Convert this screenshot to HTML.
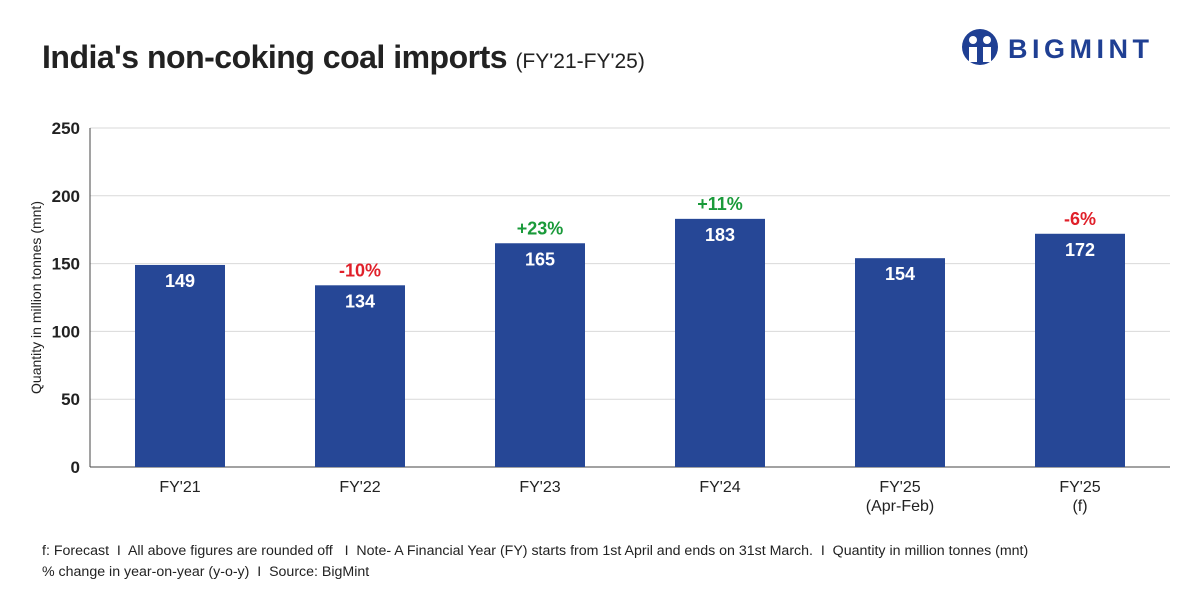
<!DOCTYPE html>
<html><head><meta charset="utf-8"><style>
body{margin:0;width:1200px;height:600px;background:#fff;font-family:"Liberation Sans",sans-serif;overflow:hidden;position:relative}
.t{position:absolute}
</style></head><body>
<div class="t" style="left:42px;top:39px;font-size:32px;font-weight:bold;color:#222;letter-spacing:-0.5px">India's non-coking coal imports <span style="font-size:21px;font-weight:normal;letter-spacing:0">(FY'21-FY'25)</span></div>
<div class="t" style="left:960px;top:28px;width:200px;height:40px">
<svg width="40" height="40" viewBox="0 0 40 40"><circle cx="20" cy="19" r="18" fill="#1f3f93"/><circle cx="13" cy="12" r="4" fill="#fff"/><circle cx="27" cy="12" r="4" fill="#fff"/><path d="M9 19h8v15h-8zM23 19h8v15h-8z" fill="#fff"/></svg>
<span style="position:absolute;left:48px;top:6px;font-size:27px;font-weight:bold;color:#1f3f93;letter-spacing:4.5px">BIGMINT</span></div>
<svg class="t" style="left:0;top:0" width="1200" height="600" id="c"></svg>
<div class="t" style="left:42px;top:543px;font-size:14.2px;color:#222">f: Forecast &nbsp;I&nbsp; All above figures are rounded off &nbsp; I&nbsp; Note- A Financial Year (FY) starts from 1st April and ends on 31st March. &nbsp;I&nbsp; Quantity in million tonnes (mnt)</div>
<div class="t" style="left:42px;top:564px;font-size:14.2px;color:#222">% change in year-on-year (y-o-y) &nbsp;I&nbsp; Source: BigMint</div>
<script>
const categories=[["FY'21"],["FY'22"],["FY'23"],["FY'24"],["FY'25","(Apr-Feb)"],["FY'25","(f)"]];
const values=[149,134,165,183,154,172];
const changes=["","-10%","+23%","+11%","","-6%"];
const ticks=[0,50,100,150,200,250];
const NS="http://www.w3.org/2000/svg",svg=document.getElementById('c');
const x0=90,x1=1170,y0=467,y1=128,ymax=250;
const y=v=>y0-(v/ymax)*(y0-y1);
const bw=(x1-x0)/categories.length;
const xc=i=>x0+bw*(i+0.5);
function mk(t,a,txt){const e=document.createElementNS(NS,t);for(const k in a)e.setAttribute(k,a[k]);if(txt!=null)e.textContent=txt;svg.appendChild(e);return e;}
ticks.forEach(t=>{
const g=mk('line',{x1:x0,x2:x1,y1:y(t),y2:y(t),stroke:t?'#d9d9d9':'#444','stroke-width':1});


const l=mk('text',{x:x0-10,y:y(t)+6,'text-anchor':'end','font-size':17,'font-weight':'bold',fill:'#222'},t);


});
const ax=mk('line',{x1:x0,x2:x0,y1:y1,y2:y0,stroke:'#444'});


const yt=mk('text',{transform:`translate(41,${(y0+y1)/2}) rotate(-90)`,'text-anchor':'middle','font-size':14,fill:'#222'},'Quantity in million tonnes (mnt)');


values.forEach((v,i)=>{
const r=mk('rect',{x:xc(i)-45,y:y(v),width:90,height:y0-y(v),fill:'#264796'});


const tv=mk('text',{x:xc(i),y:y(v)+22,'text-anchor':'middle','font-size':18,'font-weight':'bold',fill:'#fff'},v);


if(changes[i]){const c=mk('text',{x:xc(i),y:y(v)-9,'text-anchor':'middle','font-size':18,'font-weight':'bold',fill:changes[i][0]=='+'?'#1a9a3a':'#e0202a'},changes[i]);

}
categories[i].forEach((s,j)=>{const l=mk('text',{x:xc(i),y:y0+25+j*19,'text-anchor':'middle','font-size':16,fill:'#222'},s);

});
});
</script>
</body></html>
